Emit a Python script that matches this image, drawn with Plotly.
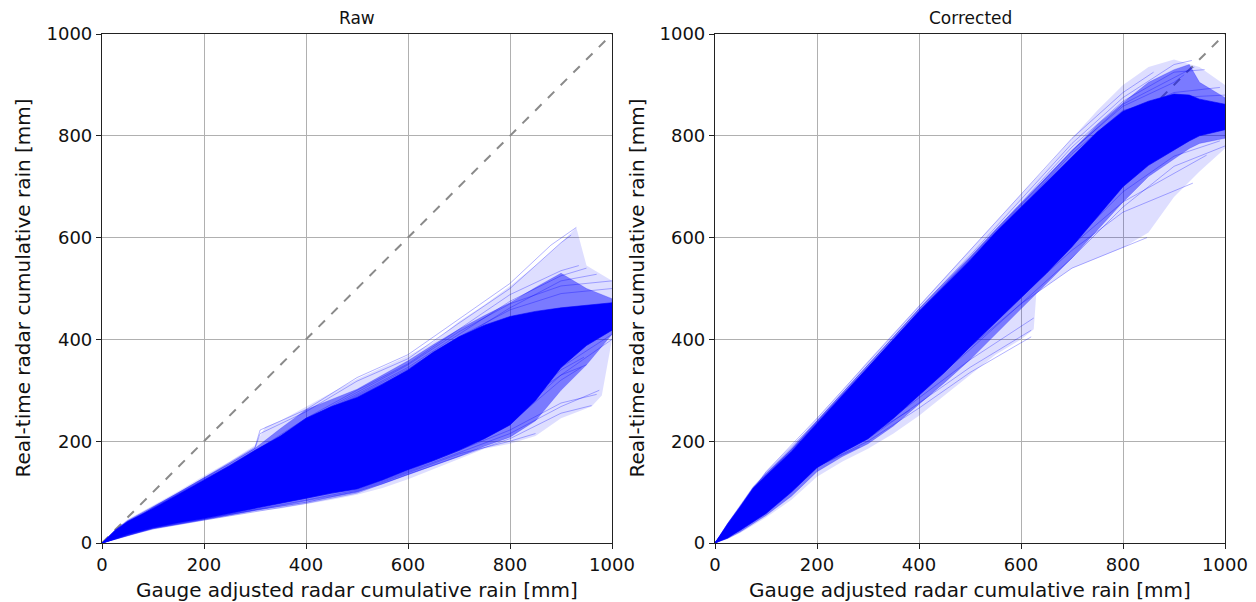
import plotly.graph_objects as go

# ---------------- data ----------------
TICKS = [0, 200, 400, 600, 800, 1000]
TICK_TEXT = ["0", "200", "400", "600", "800", "1000"]
DIAG_X = [0, 1000]
DIAG_Y = [0, 1000]

# ---- Raw panel ----
# outer (sparse) envelope of all curves
RAW_OUT_X = [0, 25, 50, 100, 150, 200, 250, 300, 320, 350, 400, 450, 500, 550, 600, 650, 700, 750, 800, 850, 900, 930, 950, 1000]
RAW_OUT_UP = [0, 26, 46, 74, 102, 132, 160, 192, 228, 240, 268, 295, 322, 345, 368, 395, 435, 468, 505, 545, 590, 620, 545, 515]
RAW_OUT_X_LO = [0, 25, 50, 100, 150, 200, 250, 300, 350, 400, 450, 500, 550, 600, 650, 700, 750, 800, 850, 900, 960, 980, 1000]
RAW_OUT_LO = [0, 7, 14, 26, 36, 44, 53, 62, 68, 76, 85, 95, 108, 125, 145, 165, 185, 195, 210, 245, 268, 290, 400]
# medium-density envelope
RAW_MID_X = [0, 25, 50, 100, 150, 200, 250, 300, 350, 400, 450, 500, 550, 600, 650, 700, 750, 800, 850, 900, 950, 1000]
RAW_MID_UP = [0, 25, 44, 71, 99, 128, 156, 186, 225, 262, 282, 302, 330, 358, 390, 420, 447, 472, 502, 530, 500, 480]
RAW_MID_LO = [0, 8, 15, 28, 38, 46, 55, 65, 74, 82, 91, 100, 116, 134, 152, 170, 190, 208, 240, 300, 350, 410]
# dense core
RAW_CORE_X = [0, 25, 50, 100, 150, 200, 250, 300, 350, 400, 450, 500, 550, 600, 650, 700, 750, 800, 850, 900, 950, 1000]
RAW_CORE_UP = [0, 24, 42, 68, 96, 124, 152, 182, 210, 245, 268, 286, 312, 340, 375, 405, 428, 445, 455, 462, 467, 472]
RAW_CORE_LO = [0, 9, 17, 30, 40, 48, 58, 68, 78, 88, 98, 106, 124, 144, 162, 182, 205, 232, 280, 345, 388, 418]

# individual curves around the core
RAW_LINES_X = [
    [0, 100, 200, 300, 310, 400, 500, 600, 700, 800, 880, 930],
    [0, 100, 200, 300, 310, 400, 500, 600, 700, 800, 900, 920],
    [0, 100, 200, 300, 400, 500, 600, 700, 800, 900, 935],
    [0, 100, 200, 300, 400, 500, 600, 700, 800, 900, 950],
    [0, 100, 200, 300, 400, 500, 600, 700, 800, 900, 970],
    [0, 100, 200, 300, 400, 500, 600, 700, 800, 900, 1000],
    [0, 100, 200, 300, 400, 500, 600, 700, 800, 900, 1000],
    [0, 100, 200, 300, 400, 500, 600, 700, 800, 900, 960],
    [0, 100, 200, 300, 400, 500, 600, 700, 800, 900, 975],
    [0, 100, 200, 300, 400, 500, 600, 700, 800, 850],
    [0, 100, 200, 300, 400, 500, 600, 700, 800, 900, 940],
    [0, 100, 200, 300, 400, 500, 600, 700, 800, 900, 945],
    [0, 100, 200, 300, 400, 500, 600, 700, 800, 900, 950],
    [0, 100, 200, 300, 400, 500, 600, 700, 800, 900, 970],
    [0, 100, 200, 300, 400, 500, 600, 700, 800, 900, 1000],
    [0, 100, 200, 300, 400, 500, 600, 700, 800, 900, 1000],
]
RAW_LINES_Y = [
    [0, 70, 128, 188, 222, 262, 325, 370, 440, 510, 585, 620],
    [0, 69, 126, 186, 215, 258, 318, 362, 432, 500, 590, 605],
    [0, 66, 122, 180, 245, 300, 352, 420, 488, 535, 545],
    [0, 64, 118, 176, 240, 292, 345, 410, 475, 525, 540],
    [0, 62, 115, 172, 235, 288, 338, 400, 462, 515, 528],
    [0, 66, 120, 178, 242, 296, 350, 415, 470, 505, 515],
    [0, 63, 117, 174, 238, 290, 342, 405, 458, 490, 500],
    [0, 28, 45, 62, 78, 98, 135, 170, 205, 255, 270],
    [0, 30, 47, 65, 80, 102, 140, 178, 215, 268, 300],
    [0, 29, 46, 64, 80, 100, 138, 175, 200, 215],
    [0, 32, 50, 70, 88, 108, 145, 185, 235, 320, 345],
    [0, 34, 52, 72, 92, 112, 150, 192, 250, 340, 365],
    [0, 36, 55, 76, 96, 118, 155, 200, 260, 330, 350],
    [0, 30, 48, 66, 84, 104, 142, 182, 222, 275, 292],
    [0, 33, 51, 70, 90, 110, 148, 188, 240, 330, 400],
    [0, 35, 54, 74, 94, 115, 152, 195, 255, 345, 410],
]

# ---- Corrected panel ----
COR_OUT_X = [0, 25, 50, 75, 100, 150, 200, 250, 300, 350, 400, 450, 500, 550, 600, 650, 700, 750, 800, 850, 900, 950, 1000]
COR_OUT_UP = [0, 40, 76, 112, 140, 188, 245, 300, 358, 412, 468, 520, 575, 630, 685, 738, 795, 850, 900, 935, 950, 935, 900]
COR_OUT_X_LO = [0, 25, 50, 75, 100, 150, 200, 250, 300, 350, 400, 450, 500, 550, 600, 625, 630, 650, 700, 750, 800, 850, 900, 950, 1000]
COR_OUT_LO = [0, 8, 20, 35, 50, 85, 130, 160, 185, 215, 250, 290, 330, 370, 400, 420, 490, 505, 540, 560, 580, 610, 680, 730, 775]

COR_MID_X = [0, 25, 50, 75, 100, 150, 200, 250, 300, 350, 400, 450, 500, 550, 600, 650, 700, 750, 800, 850, 900, 930, 950, 1000]
COR_MID_UP = [0, 39, 74, 110, 136, 184, 240, 295, 350, 406, 460, 512, 562, 616, 668, 718, 770, 822, 865, 905, 930, 940, 905, 875]
COR_MID_LO = [0, 9, 22, 38, 54, 92, 140, 170, 195, 230, 272, 315, 360, 410, 460, 510, 560, 615, 670, 720, 755, 775, 785, 795]

COR_CORE_X = [0, 25, 50, 75, 100, 150, 200, 250, 300, 350, 400, 450, 500, 550, 600, 650, 700, 750, 800, 850, 900, 930, 950, 1000]
COR_CORE_UP = [0, 38, 72, 108, 132, 180, 235, 290, 345, 400, 455, 505, 555, 610, 660, 710, 760, 808, 848, 868, 882, 880, 872, 862]
COR_CORE_LO = [0, 10, 25, 42, 58, 100, 148, 178, 205, 245, 290, 335, 385, 432, 482, 530, 582, 640, 700, 742, 772, 790, 800, 812]

COR_LINES_X = [
    [0, 100, 200, 300, 400, 500, 600, 700, 800, 860],
    [0, 100, 200, 300, 400, 500, 600, 700, 800, 900, 935],
    [0, 100, 200, 300, 400, 500, 600, 700, 800, 900, 960],
    [0, 100, 200, 300, 400, 500, 600, 700, 800, 900, 1000],
    [0, 100, 200, 300, 400, 500, 600, 700, 800, 900, 990],
    [0, 50, 100, 200, 300, 400, 500, 620],
    [0, 50, 100, 200, 300, 400, 500, 620],
    [0, 50, 100, 200, 300, 400, 500, 625],
    [0, 50, 100, 200, 300, 400, 500, 600, 700, 847],
    [0, 50, 100, 200, 300, 400, 500, 600, 700, 800, 937],
    [0, 50, 100, 200, 300, 400, 500, 600, 700, 800, 964],
    [0, 50, 100, 200, 300, 400, 500, 600, 700, 800, 900, 990],
    [0, 50, 100, 200, 284],
    [0, 50, 100, 200, 300, 382],
    [0, 50, 100, 200, 300, 400, 500, 600, 700, 800, 900, 1000],
    [0, 100, 200, 300, 400, 500, 600, 700, 800, 900, 940],
    [0, 100, 200, 300, 400, 500, 600, 700, 800, 900, 920],
]
COR_LINES_Y = [
    [0, 140, 245, 355, 465, 575, 685, 795, 885, 925],
    [0, 138, 240, 350, 460, 565, 675, 785, 875, 940, 948],
    [0, 135, 238, 345, 455, 560, 668, 778, 868, 925, 930],
    [0, 130, 232, 340, 450, 555, 660, 765, 850, 875, 880],
    [0, 128, 228, 335, 445, 548, 652, 755, 840, 885, 895],
    [0, 25, 58, 150, 200, 265, 335, 405],
    [0, 26, 60, 152, 205, 275, 345, 418],
    [0, 27, 62, 155, 210, 285, 360, 442],
    [0, 28, 64, 158, 215, 295, 385, 470, 540, 600],
    [0, 30, 66, 160, 220, 300, 395, 485, 575, 650, 707],
    [0, 30, 68, 162, 225, 305, 400, 490, 585, 670, 762],
    [0, 31, 70, 165, 230, 312, 405, 495, 590, 690, 760, 790],
    [0, 26, 60, 150, 189],
    [0, 27, 62, 152, 210, 261],
    [0, 32, 62, 152, 215, 295, 380, 470, 560, 660, 740, 780],
    [0, 132, 234, 342, 452, 556, 662, 770, 862, 915, 935],
    [0, 133, 236, 344, 454, 558, 664, 772, 858, 905, 920],
]

PANEL_TITLES = ["Raw", "Corrected"]
X_TITLE = "Gauge adjusted radar cumulative rain [mm]"
Y_TITLE = "Real-time radar cumulative rain [mm]"

# ---------------- figure ----------------
W, H = 1256, 602
FONT = "DejaVu Sans"
BLUE = "rgb(0,0,255)"

LEFT_DOM = [102 / W, 612 / W]
RIGHT_DOM = [715 / W, 1225 / W]
Y_DOM = [1 - 543 / H, 1 - 34 / H]

fig = go.Figure()


def band(xa, ya, xu, yu, xl, yl, fillcolor, edge):
    fig.add_trace(go.Scatter(x=list(xu) + list(xl)[::-1], y=list(yu) + list(yl)[::-1],
                             mode="lines", fill="toself", fillcolor=fillcolor,
                             line=dict(color=edge, width=1), xaxis=xa, yaxis=ya,
                             hoverinfo="skip"))


panels = [
    dict(xa="x", ya="y",
         out=(RAW_OUT_X, RAW_OUT_UP, RAW_OUT_X_LO, RAW_OUT_LO),
         mid=(RAW_MID_X, RAW_MID_UP, RAW_MID_X, RAW_MID_LO),
         core=(RAW_CORE_X, RAW_CORE_UP, RAW_CORE_X, RAW_CORE_LO),
         lines=(RAW_LINES_X, RAW_LINES_Y)),
    dict(xa="x2", ya="y2",
         out=(COR_OUT_X, COR_OUT_UP, COR_OUT_X_LO, COR_OUT_LO),
         mid=(COR_MID_X, COR_MID_UP, COR_MID_X, COR_MID_LO),
         core=(COR_CORE_X, COR_CORE_UP, COR_CORE_X, COR_CORE_LO),
         lines=(COR_LINES_X, COR_LINES_Y)),
]

for p in panels:
    xa, ya = p["xa"], p["ya"]
    # 1:1 reference line sits beneath the curves
    fig.add_trace(go.Scatter(x=DIAG_X, y=DIAG_Y, mode="lines", xaxis=xa, yaxis=ya,
                             line=dict(color="#8a8a8a", width=2, dash="dash"),
                             hoverinfo="skip"))
    band(xa, ya, *p["out"], "rgba(0,0,255,0.13)", "rgba(0,0,255,0.0)")
    for xs, ys in zip(*p["lines"]):
        fig.add_trace(go.Scatter(x=xs, y=ys, mode="lines", xaxis=xa, yaxis=ya,
                                 line=dict(color="rgba(0,0,255,0.3)", width=1),
                                 hoverinfo="skip"))
    band(xa, ya, *p["mid"], "rgba(0,0,255,0.45)", "rgba(0,0,255,0.2)")
    band(xa, ya, *p["core"], BLUE, "rgba(0,0,255,0.6)")

axis_common = dict(
    range=[0, 1000], tickvals=TICKS, ticktext=TICK_TEXT, automargin=False,
    showline=True, mirror=True, linecolor="#222222", linewidth=1.2,
    ticks="outside", ticklen=5, tickcolor="#222222", tickwidth=1,
    showgrid=True, gridcolor="#b0b0b0", gridwidth=1, zeroline=False,
    tickfont=dict(family=FONT, size=18, color="#111111"),
    fixedrange=True,
)

fig.update_layout(
    width=W, height=H,
    margin=dict(l=0, r=0, t=0, b=0, pad=0, autoexpand=False),
    paper_bgcolor="white", plot_bgcolor="white",
    showlegend=False,
    xaxis=dict(domain=LEFT_DOM, anchor="y", **axis_common),
    yaxis=dict(domain=Y_DOM, anchor="x", **axis_common),
    xaxis2=dict(domain=RIGHT_DOM, anchor="y2", **axis_common),
    yaxis2=dict(domain=Y_DOM, anchor="x2", **axis_common),
)

ann = []
for dom, title, ytx in [(LEFT_DOM, PANEL_TITLES[0], 22 / W), (RIGHT_DOM, PANEL_TITLES[1], 636 / W)]:
    cx = (dom[0] + dom[1]) / 2
    ann.append(dict(text=title, x=cx, y=1 - 18 / H, xref="paper", yref="paper",
                    showarrow=False, xanchor="center", yanchor="middle",
                    font=dict(family=FONT, size=17, color="#111111")))
    ann.append(dict(text=X_TITLE, x=cx, y=1 - 590 / H, xref="paper", yref="paper",
                    showarrow=False, xanchor="center", yanchor="middle",
                    font=dict(family=FONT, size=20, color="#111111")))
    ann.append(dict(text=Y_TITLE, x=ytx, y=(Y_DOM[0] + Y_DOM[1]) / 2, xref="paper", yref="paper",
                    showarrow=False, xanchor="center", yanchor="middle", textangle=-90,
                    font=dict(family=FONT, size=20, color="#111111")))
fig.update_layout(annotations=ann)

fig.write_html("out.html")
